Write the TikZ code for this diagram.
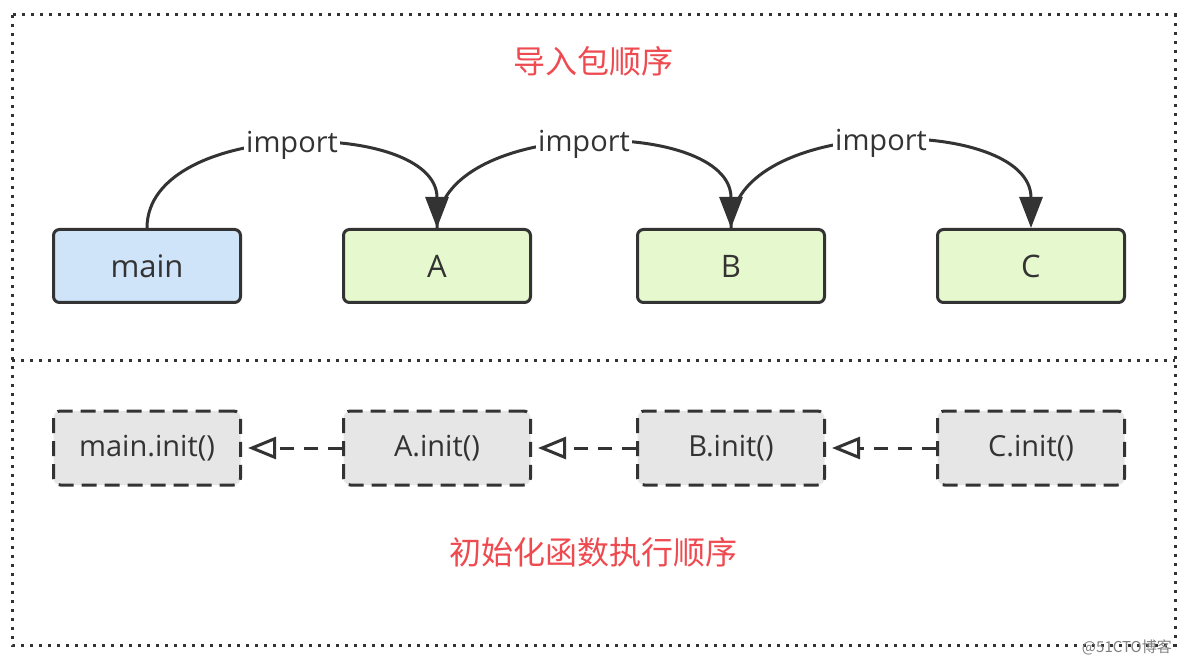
\documentclass[tikz,border=0pt]{standalone}
\usepackage{fontspec}
\setmainfont{Open Sans}
\newfontfamily\cjk{Noto Sans CJK SC}
\usetikzlibrary{arrows.meta}
\definecolor{ink}{HTML}{333333}
\definecolor{titlered}{HTML}{EE4A50}
\definecolor{mainblue}{HTML}{D0E4F9}
\definecolor{pkggreen}{HTML}{E6F9CE}
\definecolor{initgray}{HTML}{E6E6E6}
\tikzset{
  pkgbox/.style={draw=ink, line width=3pt, rounded corners=6pt, minimum width=187pt, minimum height=73pt, font=\fontsize{31}{36}\selectfont, text=ink},
  initbox/.style={draw=ink, line width=3pt, rounded corners=7pt, dash pattern=on 15pt off 8pt, fill=initgray, minimum width=187pt, minimum height=74pt, font=\fontsize{29}{34}\selectfont, text=ink},
  imparrow/.style={draw=ink, line width=3pt, -{Triangle[length=31pt,width=23pt]}},
  initarrow/.style={draw=ink, line width=3pt, dash pattern=on 14pt off 10pt, -{Triangle[open,length=28pt,width=22pt,fill=white]}, shorten >=6pt},
  implabel/.style={fill=white, inner sep=2pt, font=\fontsize{29}{34}\selectfont, text=ink},
  frame/.style={draw=ink, line width=3pt, dash pattern=on 3pt off 6pt},
  title/.style={text=titlered, font=\cjk\fontsize{32}{38}\selectfont}
}
\begin{document}
\begin{tikzpicture}[x=1pt,y=-1pt]
\useasboundingbox[fill=white] (0,0) rectangle (1186,660);
% frames
\draw[frame] (12,15) rectangle (1175,645);
\coordinate (dl) at (12,360);
\coordinate (dr) at (1175,360);
\draw[frame] (dl) -- (dr);
% titles
\node[title] (t1) at (593,61) {导入包顺序};
\node[title] (t2) at (593,552) {初始化函数执行顺序};
% package boxes
\node[pkgbox, fill=mainblue] (main) at (147,266) {main};
\node[pkgbox, fill=pkggreen] (A) at (437,266) {A};
\node[pkgbox, fill=pkggreen] (B) at (731,266) {B};
\node[pkgbox, fill=pkggreen] (C) at (1031,266) {C};
% import arrows
\draw[imparrow] (main.north) to[out=90,in=90,looseness=0.97] node[implabel] {import} (A.north);
\draw[imparrow] (A.north) to[out=90,in=90,looseness=0.97] node[implabel] {import} (B.north);
\draw[imparrow] (B.north) to[out=90,in=90,looseness=0.97] node[implabel] {import} (C.north);
% init boxes
\node[initbox] (mi) at (147,448) {main.init()};
\node[initbox] (ai) at (437,448) {A.init()};
\node[initbox] (bi) at (731,448) {B.init()};
\node[initbox] (ci) at (1031,448) {C.init()};
\draw[initarrow] (ai.west) -- (mi.east);
\draw[initarrow] (bi.west) -- (ai.east);
\draw[initarrow] (ci.west) -- (bi.east);
% watermark
\node[anchor=east, text=gray, font=\cjk\fontsize{15}{17}\selectfont, inner sep=0pt] (wm) at (1172,647) {@51CTO博客};
\end{tikzpicture}
\end{document}
